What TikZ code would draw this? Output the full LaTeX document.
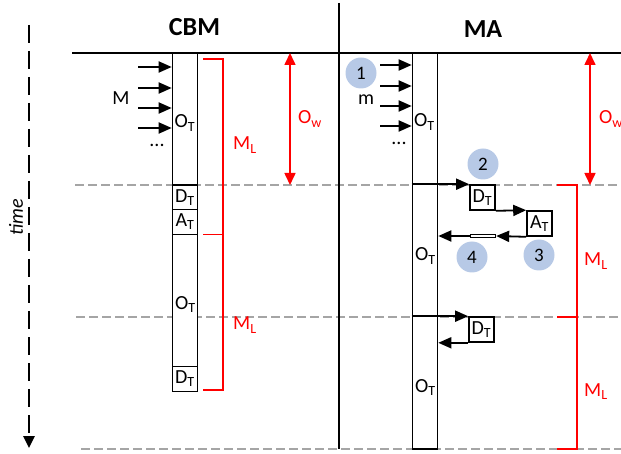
\documentclass[tikz,border=0pt]{standalone}
\usepackage{fontspec}
\setmainfont{Carlito}
\usetikzlibrary{arrows.meta,positioning}
\definecolor{stepblue}{RGB}{183,201,230}
\definecolor{slotgray}{RGB}{165,165,165}
\newcommand{\tsub}[1]{\textsubscript{#1}}
\tikzset{
  lbl/.style={inner sep=0pt, font=\fontsize{20}{22}\selectfont},
  redlbl/.style={lbl, text=red},
  tbox/.style={draw, fill=white, line width=1.6pt, minimum width=25pt, minimum height=25pt, inner sep=0pt, font=\fontsize{20}{22}\selectfont},
  column/.style={draw, fill=white, line width=1.6pt, minimum width=25pt, inner sep=0pt},
  num/.style={circle, fill=stepblue, minimum size=31pt, inner sep=0pt, font=\fontsize{19}{20}\selectfont},
  arr/.style={-{Triangle[length=13pt,width=11pt]}, line width=1.8pt},
  redarr/.style={red, {Triangle[length=12pt,width=11pt]}-{Triangle[length=12pt,width=11pt]}, line width=1.6pt},
  bracket/.style={red, line width=1.7pt},
  slot/.style={slotgray, line width=1.8pt, dash pattern=on 9pt off 4pt}
}
\begin{document}
\begin{tikzpicture}[x=1pt, y=-1pt]
\useasboundingbox (0,0) rectangle (621,454);
% time slots
\draw[slot] (75,185) -- (621,185);
\draw[slot] (76,317) -- (621,317);
\draw[slot] (81,449) -- (621,449);
% time axis
\draw[line width=2.5pt, dash pattern=on 18pt off 8pt, -{Triangle[length=12pt,width=11pt]}] (29,25) -- (29,448);
\node[lbl, font=\fontsize{20}{22}\selectfont\itshape, rotate=90] (time) at (16,217) {time};
% frame
\draw[line width=2.2pt] (72,53) -- (621,53);
\draw[line width=2.2pt] (339,3) -- (339,449);
\node[font=\fontsize{26}{28}\selectfont\bfseries] (cbmtitle) at (194.5,27) {CBM};
\node[font=\fontsize{26}{28}\selectfont\bfseries] (matitle) at (483,29) {MA};

% CBM
\node[column, minimum height=338pt] (cbm) at (185,222) {};
\node[tbox] (cbmD1) at (185,197.5) {D\tsub{T}};
\node[tbox] (cbmA) at (185,222) {A\tsub{T}};
\node[tbox] (cbmD2) at (185,379) {D\tsub{T}};
\node[lbl, anchor=base west] (cbmO1) at (174.5,128) {O\tsub{T}};
\node[lbl, anchor=base west] (cbmO2) at (175,309) {O\tsub{T}};
\foreach \y in {67, 88, 108, 128} \draw[arr] (138,\y) -- (cbm.west |- 0,\y);
\node[lbl] (M) at (121,98) {M};
\node[lbl, anchor=base] (cbmdots) at (157,147) {...};
\draw[bracket] (203,59) -| (223,390) -- (203,390);
\draw[bracket] (203,234.5) -- (223,234.5);
\node[redlbl, anchor=base west] (cbmML1) at (233,150) {M\tsub{L}};
\node[redlbl, anchor=base west] (cbmML2) at (233,330) {M\tsub{L}};
\coordinate (cbmOwtop) at (290,53);
\coordinate (cbmOwbot) at (290,185);
\draw[redarr] (cbmOwtop) -- (cbmOwbot);
\node[redlbl, anchor=base west] (cbmOw) at (298,124) {O\tsub{w}};

% MA
\node[column, minimum height=396pt] (ma) at (425,251) {};
\node[lbl, anchor=base west] (maO1) at (414,127) {O\tsub{T}};
\node[lbl, anchor=base west] (maO2) at (415,261) {O\tsub{T}};
\node[lbl, anchor=base west] (maO3) at (415,392) {O\tsub{T}};
\foreach \y in {65, 86, 106, 126} \draw[arr] (380,\y) -- (ma.west |- 0,\y);
\node[lbl, anchor=base] (m) at (366,105) {m};
\node[lbl, anchor=base] (madots) at (399,145) {...};
\node[num] (n1) at (361,73) {1};
\node[num] (n2) at (483,164) {2};
\node[num] (n3) at (539,255) {3};
\node[num] (n4) at (472,257) {4};
\node[tbox] (maD1) at (482.5,197.5) {D\tsub{T}};
\node[tbox] (maA) at (539.5,223.5) {A\tsub{T}};
\node[draw, line width=1.3pt, minimum width=25pt, minimum height=3.5pt, inner sep=0pt] (msg) at (483,236) {};
\node[tbox] (maD2) at (481.5,329.5) {D\tsub{T}};
\draw[arr] (ma.west |- maD1.north west) -- (maD1.north west);
\draw[arr] (maD1.south east) -- (maA.north west);
\draw[arr] (maA.south west) -- (msg.east);
\draw[arr] (msg.west) -- (ma.east |- msg.west);
\draw[arr] (ma.west |- maD2.north west) -- (maD2.north west);
\draw[arr] (maD2.south west) -- (ma.east |- maD2.south west);
\draw[bracket] (557,185) -- (577,185) -- (577,449) -- (557,449);
\draw[bracket] (557,317) -- (577,317);
\node[redlbl, anchor=base west] (maML1) at (584,266) {M\tsub{L}};
\node[redlbl, anchor=base west] (maML2) at (584,396) {M\tsub{L}};
\coordinate (maOwtop) at (590,53);
\coordinate (maOwbot) at (590,185);
\draw[redarr] (maOwtop) -- (maOwbot);
\node[redlbl, anchor=base west] (maOw) at (599,124) {O\tsub{w}};
\end{tikzpicture}
\end{document}
